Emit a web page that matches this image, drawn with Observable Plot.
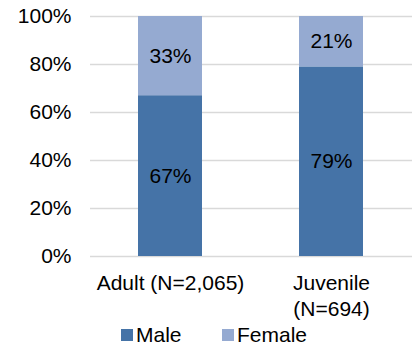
<!DOCTYPE html>
<html>
<head>
<meta charset="utf-8">
<script src="https://cdn.jsdelivr.net/npm/d3@7"></script>
<script src="https://cdn.jsdelivr.net/npm/@observablehq/plot@0.6"></script>
<style>
  html, body { margin: 0; padding: 0; background: #fff; }
  body { width: 417px; height: 347px; overflow: hidden; font-family: "Liberation Sans", Arial, sans-serif; }
  #chart svg { overflow: visible; display: block; }
  #legend { position: relative; height: 25px; font-size: 21px; color: #000; }
  .item { position: absolute; top: 0; display: flex; align-items: center; height: 25px; }
  .sw { width: 12px; height: 12px; margin-right: 3px; }
</style>
</head>
<body>
<div id="chart"></div>
<div id="legend"></div>
<script>
const categories = ["Adult", "Juvenile"];
const categoryLabels = ["Adult (N=2,065)", "Juvenile\n(N=694)"];
const series = ["Male", "Female"];
const maleValues = [67, 79];
const femaleValues = [33, 21];
const yTicks = [0, 20, 40, 60, 80, 100];
const colors = ["#4573a7", "#95aad1"];

const data = [];
categories.forEach((c, i) => {
  data.push({category: c, sex: "Male", value: maleValues[i]});
  data.push({category: c, sex: "Female", value: femaleValues[i]});
});

const chart = Plot.plot({
  width: 417,
  height: 322,
  marginLeft: 90,
  marginRight: 5,
  marginTop: 16,
  marginBottom: 66,
  style: {fontFamily: "Liberation Sans, Arial, sans-serif", fontSize: "21px", color: "#000", background: "#fff", overflow: "visible"},
  x: {domain: categories, paddingInner: 0.6, paddingOuter: 0.3, label: null},
  y: {domain: [0, 100], label: null},
  color: {domain: series, range: colors},
  marks: [
    Plot.ruleY(yTicks, {stroke: "#d9d9d9", strokeWidth: 1.3}),
    Plot.barY(data, Plot.stackY({x: "category", y: "value", fill: "sex", order: series})),
    Plot.text(data, Plot.stackY({x: "category", y: "value", z: "sex", order: series, text: d => d.value + "%", fill: "#000", fontSize: 21})),
    Plot.axisY({ticks: yTicks, tickSize: 0, tickPadding: 19, tickFormat: d => d + "%", fontSize: 21, fill: "#000", label: null}),
    Plot.axisX({tickSize: 0, tickPadding: 15, tickFormat: d => categoryLabels[categories.indexOf(d)], fontSize: 21, fill: "#000", lineHeight: 1.24, label: null})
  ]
});
document.getElementById("chart").appendChild(chart);

const legend = document.getElementById("legend");
const positions = [121, 222];
series.forEach((s, i) => {
  const item = document.createElement("div");
  item.className = "item";
  item.style.left = positions[i] + "px";
  const sw = document.createElement("span");
  sw.className = "sw";
  sw.style.background = colors[i];
  const t = document.createElement("span");
  t.textContent = s;
  item.appendChild(sw);
  item.appendChild(t);
  legend.appendChild(item);
});
</script>
</body>
</html>
